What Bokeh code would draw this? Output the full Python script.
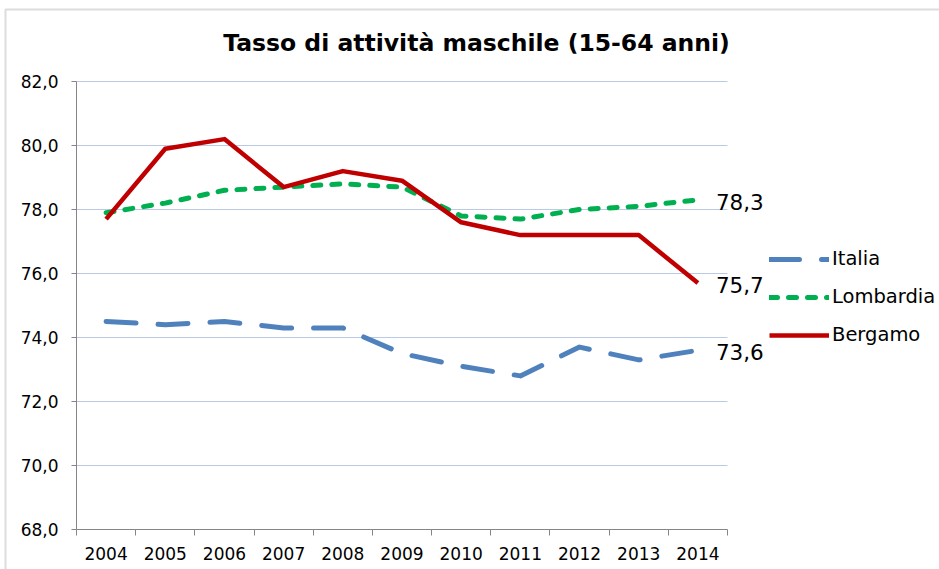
from bokeh.plotting import figure
from bokeh.models import (ColumnDataSource, FixedTicker, CustomJSTickFormatter,
                          Legend, LegendItem, LabelSet, Label, BoxAnnotation)
from bokeh.core.properties import value
from bokeh.embed import file_html
from bokeh.resources import INLINE

years = [2004, 2005, 2006, 2007, 2008, 2009, 2010, 2011, 2012, 2013, 2014]
italia = [74.5, 74.4, 74.5, 74.3, 74.3, 73.5, 73.1, 72.8, 73.7, 73.3, 73.6]
lombardia = [77.9, 78.2, 78.6, 78.7, 78.8, 78.7, 77.8, 77.7, 78.0, 78.1, 78.3]
bergamo = [77.7, 79.9, 80.2, 78.7, 79.2, 78.9, 77.6, 77.2, 77.2, 77.2, 75.7]
y_ticks = [68, 70, 72, 74, 76, 78, 80, 82]
title_text = "Tasso di attività maschile (15-64 anni)"

FONT = "DejaVu Sans"
W, H = 939, 569
LEFT, BOTTOM = 76, 40          # pixel position of the axes
px_per_year = 59.18
px_per_unit = 32.0

x0 = years[0] - 0.5
x1 = years[-1] + 0.5
xs = x0 - LEFT / px_per_year
xe = xs + W / px_per_year
ys = y_ticks[0] - BOTTOM / px_per_unit
ye = ys + H / px_per_unit


def xd(px):
    return xs + px / px_per_year


def yd(py):
    return ye - py / px_per_unit


p = figure(width=W, height=H, output_backend="svg", toolbar_location=None,
           x_range=(xs, xe), y_range=(ys, ye),
           min_border_left=0, min_border_right=0, min_border_top=0, min_border_bottom=0)
p.outline_line_color = None
p.background_fill_color = "white"
p.border_fill_color = "white"

# outer chart border (top and left visible)
p.add_layout(BoxAnnotation(left=xd(5), top=yd(9), right=xd(W + 20), bottom=yd(H + 20),
                           fill_alpha=0, line_color="#8c8c8c", line_width=2))

# axes
p.yaxis.fixed_location = x0
p.yaxis.bounds = (y_ticks[0], y_ticks[-1])
p.yaxis.ticker = FixedTicker(ticks=y_ticks)
p.yaxis.formatter = CustomJSTickFormatter(code="return tick.toFixed(1).replace('.', ',');")
p.yaxis.axis_line_color = "#868686"
p.yaxis.major_tick_line_color = "#868686"
p.yaxis.major_tick_out = 5
p.yaxis.major_tick_in = 0
p.yaxis.minor_tick_line_color = None
p.yaxis.major_label_standoff = 13
p.yaxis.major_label_text_font = FONT
p.yaxis.major_label_text_font_size = "17px"
p.yaxis.major_label_text_color = "#000000"

bounds = [y - 0.5 for y in years] + [years[-1] + 0.5]
p.xaxis.fixed_location = y_ticks[0]
p.xaxis.bounds = (x0, x1)
p.xaxis.ticker = FixedTicker(ticks=years, minor_ticks=bounds)
p.xaxis.formatter = CustomJSTickFormatter(code="return tick.toFixed(0);")
p.xaxis.axis_line_color = "#868686"
p.xaxis.major_tick_line_color = None
p.xaxis.major_tick_out = 0
p.xaxis.major_tick_in = 0
p.xaxis.minor_tick_line_color = "#868686"
p.xaxis.minor_tick_out = 6
p.xaxis.minor_tick_in = 0
p.xaxis.major_label_standoff = 11
p.xaxis.major_label_text_font = FONT
p.xaxis.major_label_text_font_size = "17px"
p.xaxis.major_label_text_color = "#000000"

p.xgrid.grid_line_color = None
p.ygrid.grid_line_color = None

# horizontal gridlines limited to the plot area
gy = y_ticks[1:]
p.segment(x0=[x0] * len(gy), x1=[x1] * len(gy), y0=gy, y1=gy,
          line_color="#b9c9e6", line_width=1)

src = ColumnDataSource(dict(x=years, it=italia, lo=lombardia, be=bergamo))

r_it = p.line("x", "it", source=src, line_color="#4f81bd", line_width=5,
              line_dash="30 22", line_cap="round", line_join="round")
r_lo = p.line("x", "lo", source=src, line_color="#00b050", line_width=5,
              line_dash="8 11", line_cap="round", line_join="round")
r_be = p.line("x", "be", source=src, line_color="#c00000", line_width=4.5,
              line_join="round")

# end labels
last = ColumnDataSource(dict(
    x=[years[-1]] * 3,
    y=[lombardia[-1], bergamo[-1], italia[-1]],
    t=[f"{v:.1f}".replace(".", ",") for v in (lombardia[-1], bergamo[-1], italia[-1])],
))
p.add_layout(LabelSet(x="x", y="y", text="t", source=last, x_offset=18, y_offset=-2,
                      text_baseline="middle", text_align="left", text_font=value(FONT),
                      text_font_size=value("21.5px"), text_color="#000000"))

legend = Legend(items=[LegendItem(label="Italia", renderers=[r_it]),
                       LegendItem(label="Lombardia", renderers=[r_lo]),
                       LegendItem(label="Bergamo", renderers=[r_be])],
                location=(769, 223), orientation="vertical",
                glyph_width=60, glyph_height=20, label_height=20, label_standoff=3,
                spacing=15, padding=0, margin=0,
                label_text_font=FONT, label_text_font_size="19.5px",
                label_text_color="#000000",
                border_line_color=None, background_fill_alpha=0)
p.add_layout(legend, "center")

p.add_layout(Label(x=xd(476), y=yd(42), text=title_text,
                   text_align="center", text_baseline="middle", text_font=FONT,
                   text_font_style="bold", text_font_size="23.5px", text_color="#000000"))

open("out.html", "w").write(file_html(p, INLINE))
